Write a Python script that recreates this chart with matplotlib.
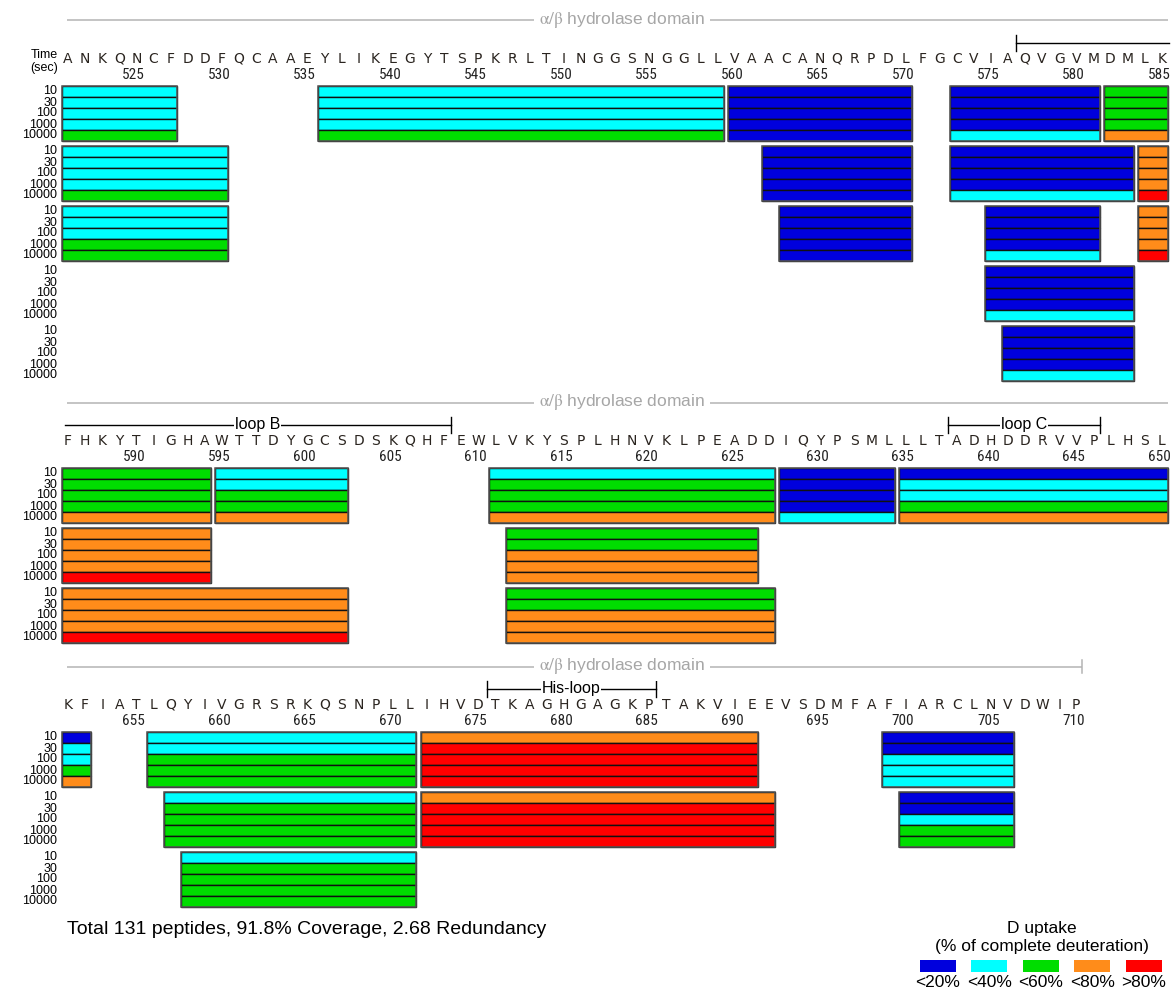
import matplotlib
matplotlib.use("Agg")
import matplotlib.pyplot as plt
import matplotlib.transforms as mtransforms
from matplotlib import font_manager as fm

plt.rcParams['font.family'] = ['Liberation Sans', 'DejaVu Sans']
plt.rcParams['mathtext.fontset'] = 'stix'

# ---------------- data ----------------
block_starts = [521, 586, 651]
block_sequences = [
    "ANKQNCFDDFQCAAEYLIKEGYTSPKRLTINGGSNGGLLVAACANQRPDLFGCVIAQVGVMDMLK",
    "FHKYTIGHAWTTDYGCSDSKQHFEWLVKYSPLHNVKLPEADDIQYPSMLLLTADHDDRVVPLHSL",
    "KFIATLQYIVGRSRKQSNPLLIHVDTKAGHGAGKPTAKVIEEVSDMFAFIARCLNVDWIP",
]
block_label_rows = [5, 3, 3]
time_points = ["10", "30", "100", "1000", "10000"]

uptake_labels = ["<20%", "<40%", "<60%", "<80%", ">80%"]
uptake_colors = ["#0000dd", "#00ffff", "#00dd00", "#ff8c1a", "#ff0000"]
uptake_codes = ["B", "C", "G", "O", "R"]

# peptides: (row, start residue, end residue, uptake class per time point 10..10000 s)
block1_peptides = [
    (0, 521, 527, "CCCCG"), (0, 536, 559, "CCCCG"), (0, 560, 570, "BBBBB"),
    (0, 573, 581, "BBBBC"), (0, 582, 585, "GGGGO"),
    (1, 521, 530, "CCCCG"), (1, 562, 570, "BBBBB"), (1, 573, 583, "BBBBC"),
    (1, 584, 585, "OOOOR"),
    (2, 521, 530, "CCCGG"), (2, 563, 570, "BBBBB"), (2, 575, 581, "BBBBC"),
    (2, 584, 585, "OOOOR"),
    (3, 575, 583, "BBBBC"),
    (4, 576, 583, "BBBBC"),
]
block2_peptides = [
    (0, 586, 594, "GGGGO"), (0, 595, 602, "CCGGO"), (0, 611, 627, "CGGGO"),
    (0, 628, 634, "BBBBC"), (0, 635, 650, "BCCGO"),
    (1, 586, 594, "OOOOR"), (1, 612, 626, "GGOOO"),
    (2, 586, 602, "OOOOR"), (2, 612, 627, "GGOOO"),
]
block3_peptides = [
    (0, 651, 652, "BCCGO"), (0, 656, 671, "CCGGG"), (0, 672, 691, "ORRRR"),
    (0, 699, 706, "BBCCC"),
    (1, 657, 671, "CGGGG"), (1, 672, 692, "ORRRR"), (1, 700, 706, "BBCGG"),
    (2, 658, 671, "CGGGG"),
]
block_peptides = [block1_peptides, block2_peptides, block3_peptides]

# region annotations: (label, from residue, to residue, left tick, right tick)
block_regions = [
    [("", 576.5, 585.4, True, False)],
    [("loop B", 585.8, 608.4, False, True), ("loop C", 637.5, 646.4, True, True)],
    [("His-loop", 675.5, 685.4, True, True)],
]
domain_label = r"$\mathrm{\alpha/\beta}$ hydrolase domain"
domain_end_tick = [None, None, 710.35]
summary_text = "Total 131 peptides, 91.8% Coverage, 2.68 Redundancy"

# ---------------- fonts ----------------
_fonts = fm.fontManager.ttflist
_names = {f.name for f in _fonts}
num_font = dict(family=["Liberation Sans"], fontsize=9.5)
for cand in ["Liberation Sans Narrow", "Roboto Condensed", "Open Sans Condensed",
             "Arial Narrow", "DejaVu Sans Condensed"]:
    if cand in _names:
        num_font = dict(family=[cand], fontsize=11)
        break
else:
    if any(f.name == "DejaVu Sans" and str(f.stretch) in ("condensed", "semi-condensed")
           for f in _fonts):
        num_font = dict(family=["DejaVu Sans"], fontstretch="condensed", fontsize=11)

# ---------------- layout ----------------
W, H = 1172, 990
FIRST_PX = 68.0      # pixel x of the first residue of each block
RES_PX = 17.09       # pixel spacing per residue
ROW_TOPS = [86, 468, 732]
STRIPE = 11.0
ROW_PITCH = 60.0
INSET = 0.13

fig = plt.figure(figsize=(W / 100, H / 100), dpi=100)
code_index = {c: i for i, c in enumerate(uptake_codes)}

for b, start in enumerate(block_starts):
    top_px = ROW_TOPS[b] - 80
    bot_px = ROW_TOPS[b] + block_label_rows[b] * ROW_PITCH
    ax = fig.add_axes([0, 1 - bot_px / H, 1, (bot_px - top_px) / H])
    x0 = start - FIRST_PX / RES_PX
    ax.set_xlim(x0, x0 + W / RES_PX)
    ax.set_ylim(bot_px - ROW_TOPS[b], top_px - ROW_TOPS[b])
    ax.axis("off")
    tx = mtransforms.blended_transform_factory(ax.transAxes, ax.transData)

    # domain line + label
    x_line_end = domain_end_tick[b] if domain_end_tick[b] else x0 + 1168 / RES_PX
    ax.plot([x0 + 67 / RES_PX, x_line_end], [-65.5, -65.5], color="#b4b4b4", lw=1.1,
            solid_capstyle="butt", clip_on=False)
    if domain_end_tick[b]:
        ax.plot([x_line_end, x_line_end], [-72, -59], color="#b4b4b4", lw=1.1, clip_on=False)
    ax.text(622 / W, -65.5, domain_label, transform=tx, ha="center", va="center",
            fontsize=12.5, color="#a6a6a6",
            bbox=dict(facecolor="white", edgecolor="none", pad=3.5))

    # regions / loops
    for label, r0, r1, lt, rt in block_regions[b]:
        ax.plot([r0, r1], [-43, -43], color="black", lw=1.0, clip_on=False)
        if lt:
            ax.plot([r0, r0], [-51, -35], color="black", lw=1.0, clip_on=False)
        if rt:
            ax.plot([r1, r1], [-51, -35], color="black", lw=1.0, clip_on=False)
        if label:
            ax.text((r0 + r1) / 2, -43, label, ha="center", va="center", fontsize=11.5,
                    color="black", bbox=dict(facecolor="white", edgecolor="none", pad=0.5))

    # sequence and residue numbers
    for i, aa in enumerate(block_sequences[b]):
        res = start + i
        ax.text(res, -27, aa, ha="center", va="center", fontsize=10,
                family=["DejaVu Sans"], color="#2a241f")
        if res % 5 == 0:
            ax.text(res - 0.15, -11, str(res), ha="center", va="center",
                    color="#222222", **num_font)

    # time labels
    if b == 0:
        ax.text(44 / W, -31, "Time", transform=tx, ha="center", va="center", fontsize=9)
        ax.text(44 / W, -18, "(sec)", transform=tx, ha="center", va="center", fontsize=9)
    for r in range(block_label_rows[b]):
        for k, t in enumerate(time_points):
            ax.text(57 / W, r * ROW_PITCH + (k + 0.5) * STRIPE, t, transform=tx,
                    ha="right", va="center", fontsize=9)

    # peptides
    for row, p0, p1, upt in block_peptides[b]:
        left = p0 - 0.5 + INSET
        width = (p1 - p0 + 1) - 2 * INSET
        ytop = row * ROW_PITCH
        for k, c in enumerate(upt):
            ax.barh(ytop + (k + 0.5) * STRIPE, width, left=left, height=STRIPE,
                    color=uptake_colors[code_index[c]], edgecolor="#111111", linewidth=1.0)
        ax.barh(ytop + 2.5 * STRIPE, width, left=left, height=5 * STRIPE,
                facecolor="none", edgecolor="#555555", linewidth=1.1)

# summary
fig.text(67 / W, 1 - 929 / H, summary_text, ha="left", va="center", fontsize=14)

# legend
fig.text(1042 / W, 1 - 929 / H, "D uptake", ha="center", va="center", fontsize=12.5)
fig.text(1042 / W, 1 - 946 / H, "(% of complete deuteration)", ha="center", va="center",
         fontsize=12.5)
lax = fig.add_axes([895 / W, 0, 277 / W, 45 / H])
lax.set_xlim(0, 5.38)
lax.set_ylim(45, 0)
lax.axis("off")
for i, (lab, col) in enumerate(zip(uptake_labels, uptake_colors)):
    lax.bar(i + 0.83, 12, width=0.7, bottom=15, color=col, edgecolor="none")
    lax.text(i + 0.83, 37.5, lab, ha="center", va="center", fontsize=12.5)

fig.savefig("out.png", dpi=100)
